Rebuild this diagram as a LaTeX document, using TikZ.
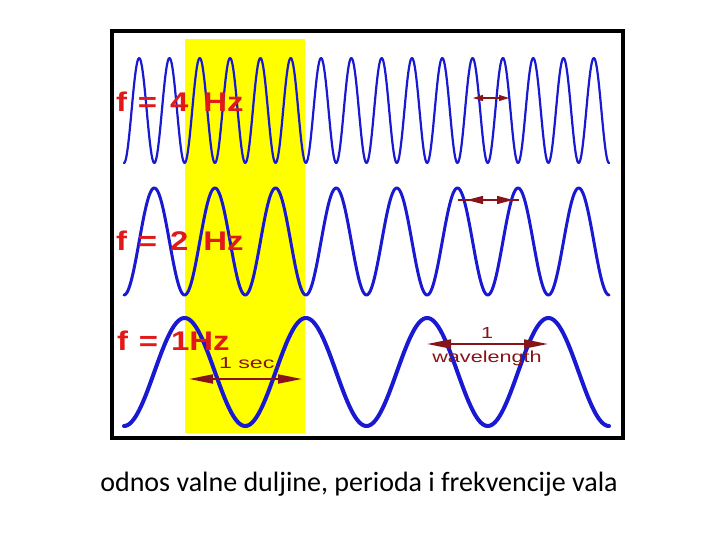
\documentclass[tikz,border=0pt]{standalone}
\usepackage{fontspec}
\setmainfont{Carlito}
\newfontfamily\arialf{Liberation Sans}
\usetikzlibrary{arrows.meta}
\definecolor{waveblue}{RGB}{25,25,210}
\definecolor{labred}{RGB}{225,25,25}
\definecolor{arrred}{RGB}{135,20,25}
\definecolor{hiyellow}{RGB}{255,255,0}
\begin{document}
\begin{tikzpicture}[x=1pt,y=-1pt,
  wave/.style={draw=waveblue, line join=round, line cap=round},
  freqlab/.style={anchor=base west, inner sep=0pt, text=labred,
    font=\arialf\bfseries\fontsize{27}{27}\selectfont},
  measlab/.style={inner sep=0pt, text=arrred,
    font=\arialf\fontsize{16}{16}\selectfont},
  bigarrow/.style={draw=arrred, line width=2pt,
    {Triangle[length=24pt,width=9pt]}-{Triangle[length=24pt,width=9pt]}},
  midarrow/.style={draw=arrred, line width=1.6pt,
    {Triangle[length=16pt,width=8pt]}-{Triangle[length=16pt,width=8pt]}},
  smallarrow/.style={draw=arrred, line width=1.4pt,
    {Triangle[length=10pt,width=6pt]}-{Triangle[length=10pt,width=6pt]}},
  thinline/.style={draw=arrred, line width=1.4pt}
]
\useasboundingbox (0,0) rectangle (720,540);
\fill[white] (0,0) rectangle (720,540);
% highlighted one-second band
\fill[hiyellow] (185,39) rectangle (305,433);
% waves
\draw[wave, line width=2.2pt] plot[domain=124:609, samples=600]
  (\x, {110.5+52.5*cos((\x-124)/30.3125*360)});
\draw[wave, line width=3pt] plot[domain=124:609, samples=500]
  (\x, {241.5+53.5*cos((\x-124)/60.625*360)});
\draw[wave, line width=4pt] plot[domain=124:609, samples=400]
  (\x, {372+54*cos((\x-124)/121.25*360)});
% frequency labels
\node[freqlab] (f4) at (116,112) {\scalebox{1.22}[1]{f\hspace{8.8pt}=\hspace{10.6pt}4\hspace{12.2pt}Hz}};
\node[freqlab] (f2) at (116,250) {\scalebox{1.22}[1]{f\hspace{8.8pt}=\hspace{10.6pt}2\hspace{12.2pt}Hz}};
\node[freqlab] (f1) at (117,350) {\scalebox{1.22}[1]{f\hspace{8.8pt}=\hspace{10.6pt}1Hz}};
% measurement arrows
\coordinate (a4l) at (473,98);
\coordinate (a4r) at (509,98);
\draw[smallarrow] (a4l) -- (a4r);
\coordinate (a2l) at (458,200);
\coordinate (a2r) at (519,200);
\draw[thinline] (a2l) -- (a2r);
\draw[midarrow, shorten <=9pt, shorten >=6pt] (a2l) -- (a2r);
\coordinate (secl) at (189,379);
\coordinate (secr) at (302,379);
\draw[bigarrow] (secl) -- (secr);
\node[measlab, anchor=base] (sec) at (250,368) {\scalebox{1.45}[1]{1 sec.}};
\coordinate (wl) at (427,344);
\coordinate (wr) at (548,344);
\draw[bigarrow] (wl) -- (wr);
\node[measlab, anchor=base] (one) at (487,338) {\scalebox{1.35}[1]{1}};
\node[measlab, anchor=base] (wave) at (487,362) {\scalebox{1.35}[1]{wavelength}};
% frame
\draw[line width=4pt] (112,31) rectangle (623,438);
% caption
\node[anchor=base, inner sep=0pt, font=\fontsize{28}{28}\selectfont] (caption) at (359,491)
  {odnos valne duljine, perioda i frekvencije vala};
\end{tikzpicture}
\end{document}
